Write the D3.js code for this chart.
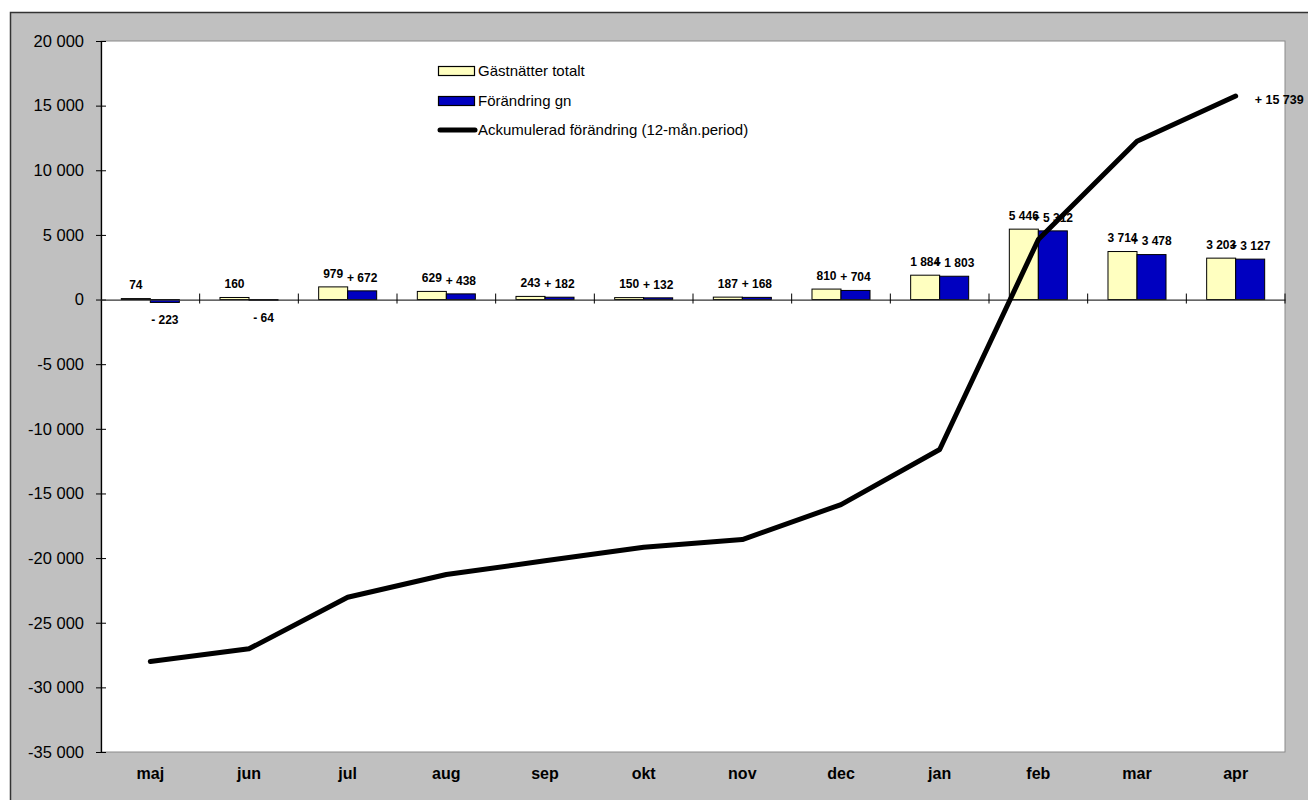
<!DOCTYPE html>
<html>
<head>
<meta charset="utf-8">
<script src="https://cdn.jsdelivr.net/npm/d3@7"></script>
<style>
  body { margin: 0; background: #fff; }
  svg { display: block; font-family: Arial, "Liberation Sans", sans-serif; }
</style>
</head>
<body>
<div id="chart"></div>
<script>
// data
const months = ["maj", "jun", "jul", "aug", "sep", "okt", "nov", "dec", "jan", "feb", "mar", "apr"];
const totalNights = [74, 160, 979, 629, 243, 150, 187, 810, 1884, 5446, 3714, 3203];
const changeNights = [-223, -64, 672, 438, 182, 132, 168, 704, 1803, 5312, 3478, 3127];
const accumulated = [-28000, -27020, -23030, -21270, -20210, -19160, -18570, -15860, -11600, 4640, 12250, 15739];
const yTicks = [-35000, -30000, -25000, -20000, -15000, -10000, -5000, 0, 5000, 10000, 15000, 20000];
const legendLabels = ["Gästnätter totalt", "Förändring gn", "Ackumulerad förändring (12-mån.period)"];

const W = 1308, H = 800;
const plot = { left: 101, right: 1285, top: 41, bottom: 752 };

const svg = d3.select("#chart").append("svg")
  .attr("width", W)
  .attr("height", H);

// outer chart area
svg.append("rect")
  .attr("x", 10.5).attr("y", 12.5)
  .attr("width", W + 20).attr("height", H + 20)
  .attr("fill", "#c0c0c0")
  .attr("stroke", "#333")
  .attr("stroke-width", 1.5);

// plot area
svg.append("rect")
  .attr("x", plot.left).attr("y", plot.top)
  .attr("width", plot.right - plot.left).attr("height", plot.bottom - plot.top)
  .attr("fill", "#fff")
  .attr("stroke", "#8a8a8a")
  .attr("stroke-width", 1);

const x = d3.scaleBand()
  .domain(months)
  .range([plot.left, plot.right])
  .padding(0);

const y = d3.scaleLinear()
  .domain([-35000, 20000])
  .range([plot.bottom, plot.top]);

const barW = x.bandwidth() * 0.294;

const fmt = v => d3.format(",")(Math.abs(v)).replace(/,/g, " ");
const fmtTick = v => (v < 0 ? "-" : "") + fmt(v);
const fmtSigned = v => (v < 0 ? "- " : "+ ") + fmt(v);

// y axis
const yAxis = d3.axisLeft(y)
  .tickValues(yTicks)
  .tickFormat(fmtTick)
  .tickSizeInner(5)
  .tickSizeOuter(0)
  .tickPadding(12);

const gy = svg.append("g")
  .attr("transform", `translate(${plot.left},0)`)
  .call(yAxis);
gy.select(".domain").attr("stroke", "#000").attr("stroke-width", 1.3);
gy.selectAll(".tick line").attr("x2", 5).attr("x1", -5).attr("stroke", "#000");
gy.selectAll(".tick text")
  .attr("x", -17)
  .attr("font-size", 16.5)
  .attr("font-family", 'Arial, "Liberation Sans", sans-serif')
  .attr("fill", "#000");

// bars
const groups = svg.append("g").selectAll("g")
  .data(months)
  .join("g");

groups.append("rect")
  .attr("x", (d) => x(d) + x.bandwidth() / 2 - barW)
  .attr("y", (d, i) => Math.min(y(totalNights[i]), y(0)))
  .attr("width", barW)
  .attr("height", (d, i) => Math.abs(y(totalNights[i]) - y(0)))
  .attr("fill", "#ffffc0")
  .attr("stroke", "#000")
  .attr("stroke-width", 1);

groups.append("rect")
  .attr("x", (d) => x(d) + x.bandwidth() / 2)
  .attr("y", (d, i) => Math.min(y(changeNights[i]), y(0)))
  .attr("width", barW)
  .attr("height", (d, i) => Math.abs(y(changeNights[i]) - y(0)))
  .attr("fill", "#0000c0")
  .attr("stroke", "#000")
  .attr("stroke-width", 1);

// zero axis with cross ticks
const xAxis = d3.axisBottom(x).tickSize(0).tickFormat("");
const gx = svg.append("g")
  .attr("transform", `translate(0,${y(0)})`)
  .call(xAxis);
gx.select(".domain").attr("stroke", "#333").attr("stroke-width", 1.3);
gx.selectAll(".tick").remove();
gx.selectAll(".bound")
  .data(months.slice(1).concat(["end"]))
  .join("line")
  .attr("class", "bound")
  .attr("x1", (d, i) => i < months.length - 1 ? x(d) : plot.right)
  .attr("x2", (d, i) => i < months.length - 1 ? x(d) : plot.right)
  .attr("y1", -6).attr("y2", 4)
  .attr("stroke", "#000")
  .attr("stroke-width", 1);

// category labels at the bottom
svg.append("g").selectAll("text")
  .data(months)
  .join("text")
  .attr("x", d => x(d) + x.bandwidth() / 2)
  .attr("y", plot.bottom + 27)
  .attr("text-anchor", "middle")
  .attr("font-size", 16)
  .attr("font-weight", "bold")
  .text(d => d);

// data labels
const labelG = svg.append("g")
  .attr("font-size", 12)
  .attr("font-weight", "bold")
  .attr("text-anchor", "middle");

labelG.selectAll(".lt")
  .data(months)
  .join("text")
  .attr("class", "lt")
  .attr("x", d => x(d) + x.bandwidth() / 2 - barW / 2)
  .attr("y", (d, i) => y(Math.max(totalNights[i], 0)) - 13.5 + 4.3)
  .text((d, i) => fmtTick(totalNights[i]));

labelG.selectAll(".lc")
  .data(months)
  .join("text")
  .attr("class", "lc")
  .attr("x", d => x(d) + x.bandwidth() / 2 + barW / 2)
  .attr("y", (d, i) => changeNights[i] >= 0
    ? y(changeNights[i]) - 13.5 + 4.3
    : y(changeNights[i]) + 17 + 4.3)
  .text((d, i) => fmtSigned(changeNights[i]));

// accumulated line
const line = d3.line()
  .x((d, i) => x(months[i]) + x.bandwidth() / 2)
  .y(d => y(d));

svg.append("path")
  .datum(accumulated)
  .attr("d", line)
  .attr("fill", "none")
  .attr("stroke", "#000")
  .attr("stroke-width", 5)
  .attr("stroke-linejoin", "round")
  .attr("stroke-linecap", "round");

const last = accumulated.length - 1;
svg.append("text")
  .attr("x", x(months[last]) + x.bandwidth() / 2 + 19)
  .attr("y", y(accumulated[last]) + 4 + 4.3)
  .attr("font-size", 12.5)
  .attr("font-weight", "bold")
  .text(fmtSigned(accumulated[last]));

// legend
const legend = svg.append("g").attr("transform", "translate(438,0)");
const legendY = [71, 101, 130];

legend.append("rect")
  .attr("x", 0.5).attr("y", legendY[0] - 4.5)
  .attr("width", 36).attr("height", 9)
  .attr("fill", "#ffffc0").attr("stroke", "#000").attr("stroke-width", 1.2);

legend.append("rect")
  .attr("x", 0.5).attr("y", legendY[1] - 4.5)
  .attr("width", 36).attr("height", 9)
  .attr("fill", "#0000c0").attr("stroke", "#000").attr("stroke-width", 1.2);

legend.append("line")
  .attr("x1", 2).attr("x2", 37)
  .attr("y1", legendY[2]).attr("y2", legendY[2])
  .attr("stroke", "#000").attr("stroke-width", 5)
  .attr("stroke-linecap", "round");

legend.selectAll(".lg")
  .data(legendLabels)
  .join("text")
  .attr("class", "lg")
  .attr("x", 40)
  .attr("y", (d, i) => legendY[i] + 5)
  .attr("font-size", 15)
  .text(d => d);
</script>
</body>
</html>
